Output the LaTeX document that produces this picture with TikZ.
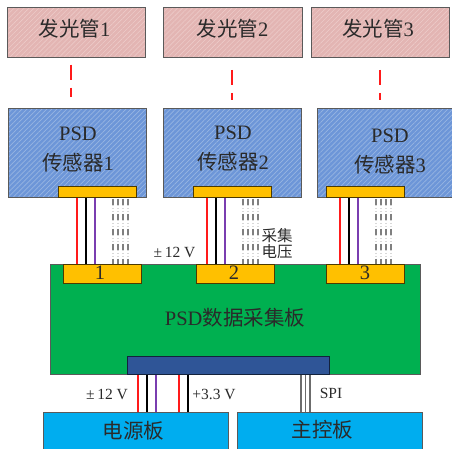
\documentclass[tikz,border=0pt]{standalone}
\usepackage{fontspec}
\usepackage{xcolor}
\usetikzlibrary{patterns.meta}
\setmainfont{Liberation Serif}
\newfontfamily\cjk{Noto Sans CJK SC}
\definecolor{inkgray}{HTML}{5A5A5A}
\definecolor{textgray}{HTML}{2A2A2A}
\definecolor{pinkbg}{HTML}{E3B5B3}
\definecolor{pinkline}{HTML}{ECCAC8}
\definecolor{bluebg}{HTML}{6D96D8}
\definecolor{blueline}{HTML}{97B5E2}
\definecolor{padyellow}{HTML}{FFC000}
\definecolor{boardgreen}{HTML}{00B050}
\definecolor{plugblue}{HTML}{2F5597}
\definecolor{boardcyan}{HTML}{00ADEF}
\definecolor{wirered}{HTML}{FF1A1A}
\definecolor{wirepurple}{HTML}{7A3DB0}
\tikzset{
  box/.style={
    rectangle, anchor=north west, inner sep=0pt, draw=inkgray, line width=0.9pt
  },
  boxtext/.style={
    anchor=center, inner sep=0pt, align=center, text=textgray,
    font=\fontsize{20.5}{30}\selectfont
  },
  emitterbox/.style={box, preaction={fill=pinkbg}, minimum width=138pt, minimum height=50pt,
    pattern={Lines[angle=45,distance=3.5pt,line width=0.6pt]}, pattern color=pinkline},
  sensorbox/.style={box, preaction={fill=bluebg}, minimum width=138pt, minimum height=89pt,
    pattern={Lines[angle=45,distance=3.5pt,line width=0.7pt]}, pattern color=blueline},
  padbox/.style={box, fill=padyellow, draw=black!70!padyellow, minimum width=78pt},
  cyanbox/.style={box, fill=boardcyan, minimum width=185pt, minimum height=37pt},
  lightpath/.style={wirered, line width=2pt, dash pattern=on 15pt off 8pt},
  redwire/.style={wirered, line width=1.8pt},
  blackwire/.style={black, line width=1.8pt},
  purplewire/.style={wirepurple, line width=1.8pt},
  graywire/.style={gray!85!black, line width=1.1pt},
  dashwire/.style={gray, line width=1.2pt, dash pattern=on 6pt off 9pt,
    preaction={draw=gray!30, line width=1.2pt, dash pattern=on 1.5pt off 1.5pt}},
  note/.style={text=textgray, inner sep=0pt, font=\fontsize{15.5}{16}\selectfont},
}
\begin{document}
\begin{tikzpicture}[x=1pt,y=-1pt]
  \useasboundingbox (0,0) rectangle (452,448);
  % light sources
  \node[emitterbox] (ledA) at (7,7) {};
  \node[emitterbox, minimum width=139pt] (ledB) at (163,7) {};
  \node[emitterbox] (ledC) at (311,7) {};
  \node[boxtext] (ledAtext) at (74.5,29) {\cjk 发光管\rmfamily 1};
  \node[boxtext] (ledBtext) at (232.5,29) {\cjk 发光管\rmfamily 2};
  \node[boxtext] (ledCtext) at (378,29) {\cjk 发光管\rmfamily 3};
  % sensors
  \node[sensorbox] (psdA) at (8,108) {};
  \node[sensorbox] (psdB) at (163,108) {};
  \node[sensorbox, minimum width=136pt] (psdC) at (317,108) {};
  \node[boxtext] (psdAtext) at (78,149.5) {PSD\\\cjk 传感器\rmfamily 1};
  \node[boxtext] (psdBtext) at (233,149) {PSD\\\cjk 传感器\rmfamily 2};
  \node[boxtext] (psdCtext) at (390,151.5) {PSD\\\cjk 传感器\rmfamily 3};
  \node[padbox, minimum height=11pt] (conA) at (58,186) {};
  \node[padbox, minimum height=11pt] (conB) at (193,186) {};
  \node[padbox, minimum height=11pt] (conC) at (326,186) {};
  % acquisition board
  \node[box, fill=boardgreen, minimum width=370pt, minimum height=110pt] (board) at (50,264) {};
  \node[boxtext] (boardtext) at (235,318) {PSD\cjk 数据采集板};
  \node[padbox, minimum height=19pt] (padA) at (63,264) {};
  \node[padbox, minimum height=19pt] (padB) at (196,264) {};
  \node[padbox, minimum height=19pt] (padC) at (326,264) {};
  \node[boxtext] (numA) at (100,273) {1};
  \node[boxtext] (numB) at (234,273) {2};
  \node[boxtext] (numC) at (365,273) {3};
  \node[box, fill=plugblue, draw=black!60!plugblue, minimum width=202pt, minimum height=18pt] (plug) at (127,356) {};
  % lower boards
  \node[cyanbox] (power) at (43,412) {};
  \node[cyanbox] (ctrl) at (237,412) {};
  \node[boxtext] (powertext) at (133.5,430.5) {\cjk 电源板};
  \node[boxtext] (ctrltext) at (322.5,429.5) {\cjk 主控板};
  % connectors
  \draw[lightpath] ([xshift=-5pt,yshift=-7pt]ledA.south) -- ([xshift=-5pt,yshift=11pt]ledA.south |- psdA.north);
  \draw[lightpath] ([xshift=-0.5pt,yshift=-12pt]ledB.south) -- ([xshift=-0.5pt,yshift=8pt]ledB.south |- psdB.north);
  \draw[lightpath] ([yshift=-12pt]ledC.south) -- ([yshift=8pt]ledC.south |- psdC.north);
  \foreach \con/\pad/\off in {conA/padA/19,conB/padB/14,conC/padC/14} {
    \draw[redwire] ([xshift=\off pt]\con.south west) -- ([xshift=\off pt]\con.south west |- \pad.north);
    \draw[blackwire] ([xshift=\off pt+9pt]\con.south west) -- ([xshift=\off pt+9pt]\con.south west |- \pad.north);
    \draw[purplewire] ([xshift=\off pt+18pt]\con.south west) -- ([xshift=\off pt+18pt]\con.south west |- \pad.north);
    \foreach \d in {36,41,46,51}
      \draw[dashwire] ([xshift=\off pt+\d pt,yshift=-1pt]\con.south west) -- ([xshift=\off pt+\d pt]\con.south west |- \pad.north);
  }
  \foreach \st/\d in {redwire/11,blackwire/20,purplewire/29,redwire/52,blackwire/61}
    \draw[\st] ([xshift=\d pt]plug.south west) -- ([xshift=\d pt]plug.south west |- power.north);
  \foreach \d in {174,178.5,183}
    \draw[graywire] ([xshift=\d pt]plug.south west) -- ([xshift=\d pt]plug.south west |- ctrl.north);
  % labels
  \node[note] (ltop) at (174.5,252) {±\,12 V};
  \node[note, align=left] (lvolt) at (277,243.5) {\cjk 采集\\[0.5pt]\cjk 电压};
  \node[note] (lpos) at (107,394) {±\,12 V};
  \node[note] (lpwr) at (214,394) {+3.3 V};
  \node[note] (lspi) at (331,393) {SPI};
\end{tikzpicture}
\end{document}
